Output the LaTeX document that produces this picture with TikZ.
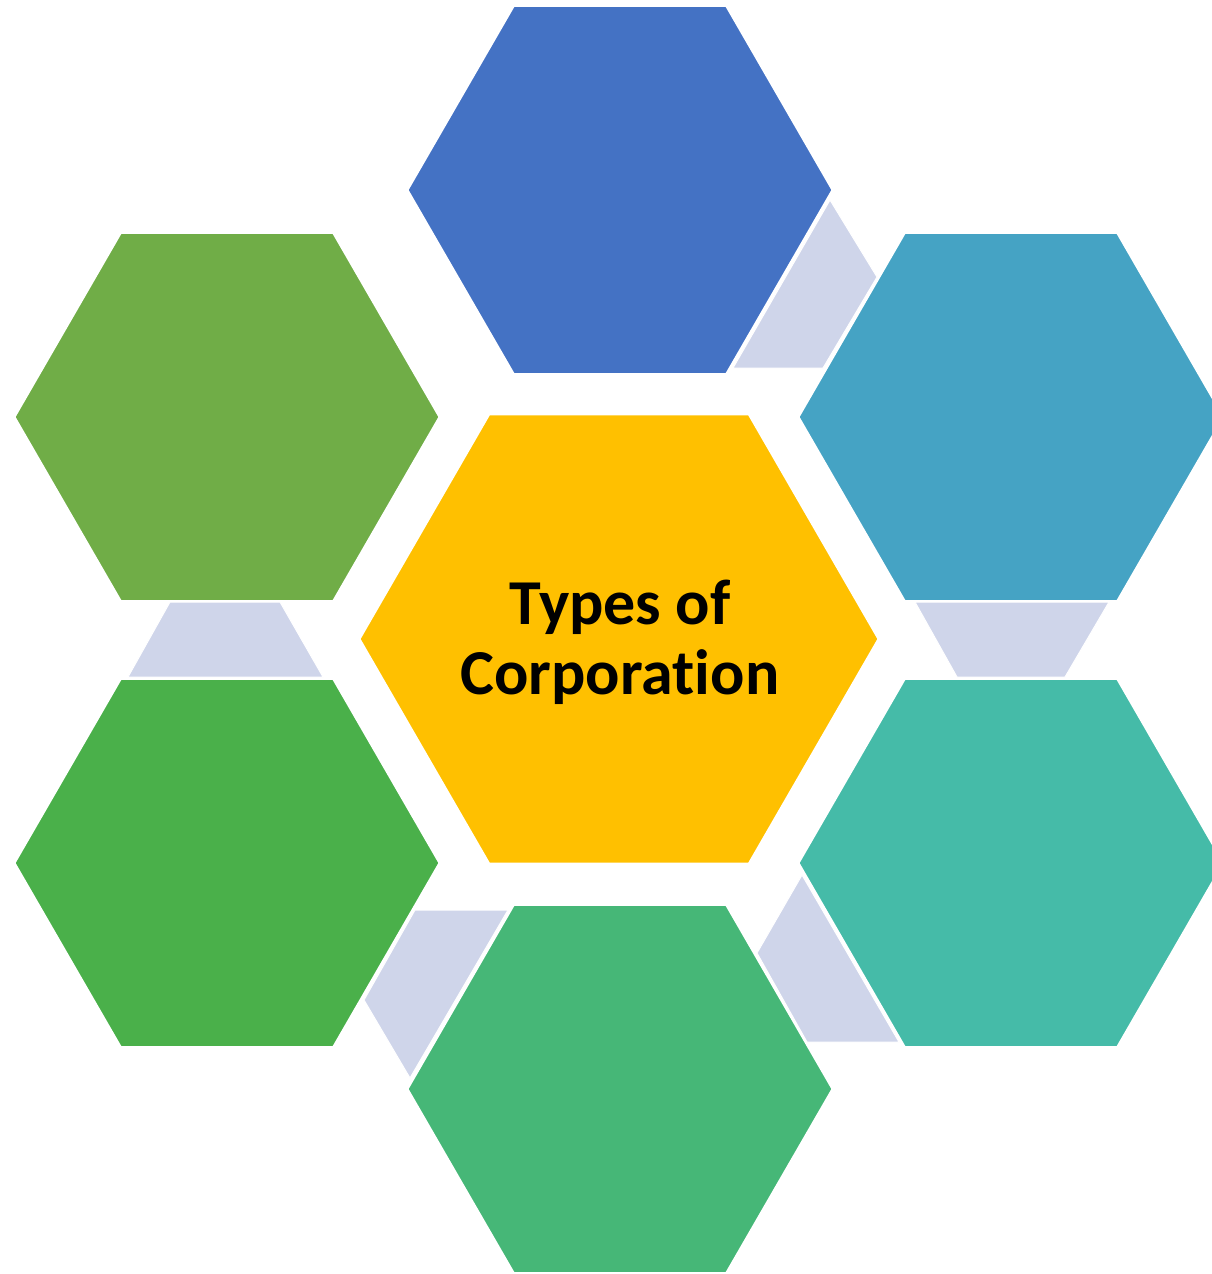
\documentclass[tikz,border=0pt]{standalone}
\usepackage{fontspec}
\setmainfont[Ligatures={NoCommon}]{Carlito}
\usetikzlibrary{shapes.geometric}
\definecolor{hexblue}{HTML}{4472C4}
\definecolor{hexcyan}{HTML}{45A3C4}
\definecolor{hexteal}{HTML}{45BBA8}
\definecolor{hexsea}{HTML}{46B777}
\definecolor{hexgreen}{HTML}{4AB04A}
\definecolor{hexlime}{HTML}{70AD47}
\definecolor{hexgold}{HTML}{FFC000}
\definecolor{linkfill}{HTML}{CFD5EA}
\tikzset{
  hexcell/.style={regular polygon, regular polygon sides=6, inner sep=0pt,
    outer sep=0pt, draw=white, line width=2pt, minimum size=425pt},
  hexhub/.style={hexcell, minimum size=519pt, fill=hexgold,
    font=\bfseries\fontsize{64}{70}\selectfont, align=center, text=black},
  link/.style={fill=linkfill, draw=white, line width=1pt}
}
\begin{document}
\begin{tikzpicture}[x=1pt,y=-1pt]
\useasboundingbox (0,0) rectangle (1212,1274);
\clip (0,0) rectangle (1212,1274);
% connectors lying behind the cells
\fill[link] (733,368) -- (830,200) -- (877,277) -- (823,368) -- cycle;
\fill[link] (915,602) -- (1109,602) -- (1065,677) -- (957,677) -- cycle;
\fill[link] (802,875) -- (899,1042) -- (807,1042) -- (757,953) -- cycle;
\fill[link] (415,910) -- (508,910) -- (410,1078) -- (364,1000) -- cycle;
\fill[link] (170,602) -- (280,602) -- (323,677) -- (128,677) -- cycle;
% outer cells
\node[hexcell, fill=hexblue]  (top)   at (620,190)  {};
\node[hexcell, fill=hexcyan]  (rtop)  at (1011,417) {};
\node[hexcell, fill=hexteal]  (rbot)  at (1011,863) {};
\node[hexcell, fill=hexsea]   (bot)   at (620,1089) {};
\node[hexcell, fill=hexgreen] (lbot)  at (227,863)  {};
\node[hexcell, fill=hexlime]  (ltop)  at (227,417)  {};
% central cell
\node[hexhub] (hub) at (619,639) {};
\node[font=\bfseries\fontsize{64}{70}\selectfont, align=center, text=black,
  inner sep=0pt] (title) at (620,642) {Types of\\Corporation};
\end{tikzpicture}
\end{document}
